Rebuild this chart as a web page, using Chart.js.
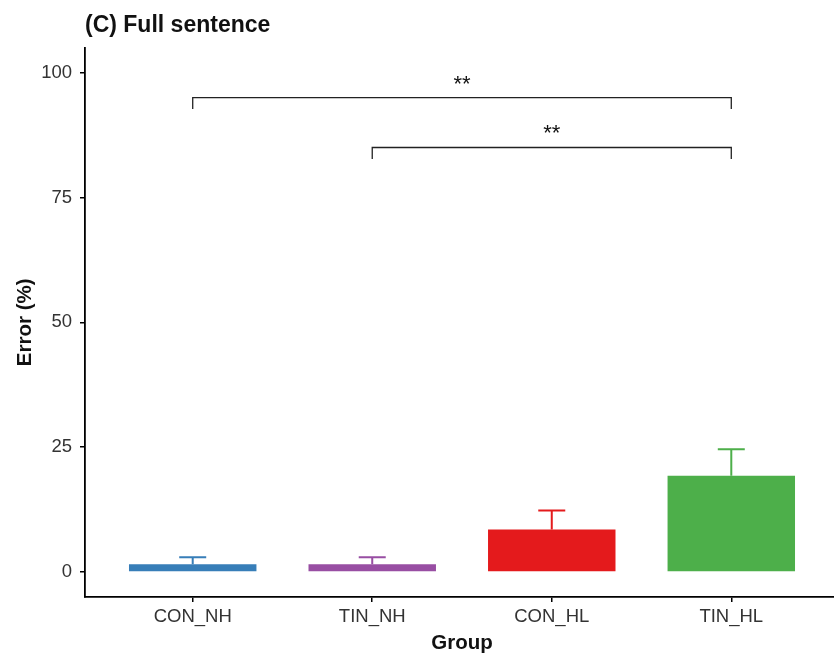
<!DOCTYPE html>
<html>
<head>
<meta charset="utf-8">
<script src="https://cdn.jsdelivr.net/npm/chart.js@4.4.1/dist/chart.umd.min.js"></script>
<style>
    html, body { margin: 0; padding: 0; background: #fff; overflow: hidden; }
    #wrap { position: absolute; left: 0; top: 0; width: 850px; height: 656px; }
</style>
</head>
<body>
<div id="wrap"><canvas id="errorChart" width="850" height="656"></canvas></div>
<script>
const groups = ['CON_NH', 'TIN_NH', 'CON_HL', 'TIN_HL'];
const errorMean = [1.55, 1.55, 8.5, 19.3];
const errorSE = [1.4, 1.4, 3.8, 5.3];
const yTicks = [0, 25, 50, 75, 100];

// significance brackets
const bracketFrom = ['CON_NH', 'TIN_NH'];
const bracketTo = ['TIN_HL', 'TIN_HL'];
const bracketY = [95, 85];
const bracketText = ['**', '**'];

const barColors = ['#377EB8', '#984EA3', '#E41A1C', '#4DAF4A'];
const FONT = "'Liberation Sans', Arial, sans-serif";

const errorBars = {
    id: 'errorBars',
    afterDatasetsDraw: function (chart) {
        const ctx = chart.ctx;
        const xs = chart.scales.x;
        const ys = chart.scales.y;
        ctx.save();

        // upper error bars
        ctx.lineWidth = 2;
        groups.forEach(function (g, i) {
            const x = xs.getPixelForValue(i + 1);
            const y0 = ys.getPixelForValue(errorMean[i]);
            const y1 = ys.getPixelForValue(errorMean[i] + errorSE[i]);
            ctx.strokeStyle = barColors[i];
            ctx.beginPath();
            ctx.moveTo(x, y0);
            ctx.lineTo(x, y1);
            ctx.moveTo(x - 13.5, y1);
            ctx.lineTo(x + 13.5, y1);
            ctx.stroke();
        });

        // brackets
        ctx.strokeStyle = '#222';
        ctx.fillStyle = '#111';
        ctx.lineWidth = 1.3;
        ctx.font = '22px ' + FONT;
        ctx.textAlign = 'center';
        ctx.textBaseline = 'alphabetic';
        bracketY.forEach(function (v, i) {
            const xa = xs.getPixelForValue(groups.indexOf(bracketFrom[i]) + 1);
            const xb = xs.getPixelForValue(groups.indexOf(bracketTo[i]) + 1);
            const y = ys.getPixelForValue(v);
            const yd = ys.getPixelForValue(v - 2.3);
            ctx.beginPath();
            ctx.moveTo(xa, yd);
            ctx.lineTo(xa, y);
            ctx.lineTo(xb, y);
            ctx.lineTo(xb, yd);
            ctx.stroke();
            ctx.fillText(bracketText[i], (xa + xb) / 2, y - 7);
        });
        ctx.restore();
    }
};

new Chart(document.getElementById('errorChart'), {
    type: 'bar',
    data: {
        datasets: [{
            data: errorMean.map(function (v, i) { return { x: i + 1, y: v }; }),
            backgroundColor: barColors,
            borderWidth: 0,
            barPercentage: 0.71,
            categoryPercentage: 1
        }]
    },
    options: {
        responsive: false,
        animation: false,
        layout: { padding: { left: 0, right: 11, top: 0, bottom: 0 } },
        plugins: {
            legend: { display: false },
            tooltip: { enabled: false },
            title: {
                display: true,
                text: '(C) Full sentence',
                align: 'start',
                fullSize: false,
                color: '#111',
                font: { family: FONT, size: 23, weight: 'bold' },
                padding: { top: 12, bottom: 8 }
            }
        },
        scales: {
            x: {
                type: 'linear',
                min: 0.4,
                max: 4.6,
                offset: false,
                afterBuildTicks: function (s) {
                    s.ticks = groups.map(function (g, i) { return { value: i + 1 }; });
                },
                afterFit: function (s) { s.height = 59; },
                grid: { offset: false, drawOnChartArea: false, drawTicks: true, tickLength: 5, color: '#000', lineWidth: 1.5 },
                border: { display: true, color: '#000', width: 1.8 },
                ticks: {
                    color: '#333',
                    padding: 4,
                    maxRotation: 0,
                    autoSkip: false,
                    font: { family: FONT, size: 18.5 },
                    callback: function (v) { return groups[v - 1]; }
                },
                title: {
                    display: true,
                    text: 'Group',
                    color: '#111',
                    font: { family: FONT, size: 20.5, weight: 'bold' },
                    padding: { top: 0, bottom: 0.5 }
                }
            },
            y: {
                min: -5,
                max: 105,
                afterBuildTicks: function (s) {
                    s.ticks = yTicks.map(function (v) { return { value: v }; });
                },
                afterFit: function (s) { s.width = 85; },
                grid: { drawOnChartArea: false, drawTicks: true, tickLength: 5, color: '#000', lineWidth: 1.5 },
                border: { display: true, color: '#000', width: 1.8 },
                ticks: {
                    color: '#333',
                    padding: 8,
                    font: { family: FONT, size: 18.5 }
                },
                title: {
                    display: true,
                    text: 'Error (%)',
                    color: '#111',
                    font: { family: FONT, size: 20.5, weight: 'bold' },
                    padding: { top: 13, bottom: 0 }
                }
            }
        }
    },
    plugins: [errorBars]
});
</script>
</body>
</html>
